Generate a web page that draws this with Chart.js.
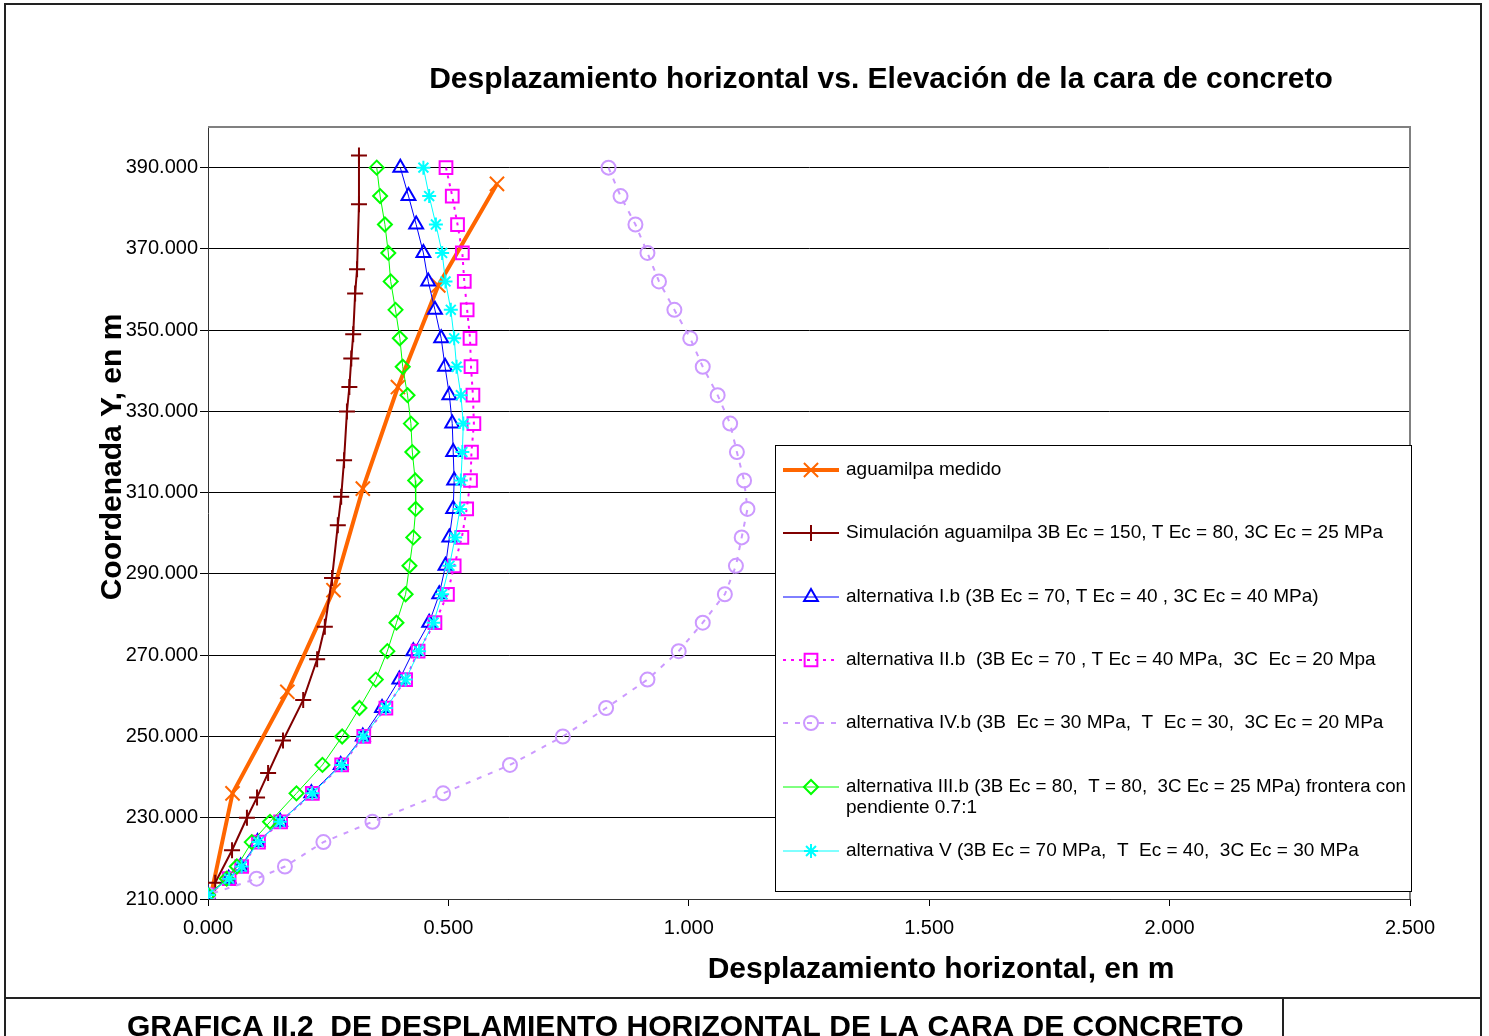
<!DOCTYPE html>
<html>
<head>
<meta charset="utf-8">
<title>Desplazamiento horizontal vs. Elevación de la cara de concreto</title>
<script src="https://cdn.jsdelivr.net/npm/chart.js@4.4.1/dist/chart.umd.min.js"></script>
<style>
  html, body { margin: 0; padding: 0; background: #fff; }
  #wrap { position: relative; width: 1489px; height: 1036px; }
</style>
</head>
<body>
<div id="wrap"><canvas id="grafica" width="1489" height="1036"></canvas></div>
<script>
// elevaciones (m)
const elevMedido = [386, 361, 336, 311, 286, 261, 236, 212];
const elevSim = [393, 381, 365, 359, 349, 343, 336, 330, 318, 309, 302, 289, 277, 269, 259, 249, 241, 235, 230, 222, 214];
const elevAlt = [390, 383, 376, 369, 362, 355, 348, 341, 334, 327, 320, 313, 306, 299, 292, 285, 278, 271, 264, 257, 250, 243, 236, 229, 224, 218, 215, 211];

// desplazamiento horizontal (m)
const despMedido = [0.601, 0.479, 0.395, 0.322, 0.261, 0.165, 0.051, 0.008];
const despSim = [0.314, 0.314, 0.310, 0.306, 0.302, 0.298, 0.294, 0.289, 0.283, 0.277, 0.270, 0.258, 0.243, 0.227, 0.198, 0.156, 0.125, 0.102, 0.081, 0.050, 0.015];
const despAltIb = [0.400, 0.417, 0.433, 0.448, 0.458, 0.472, 0.485, 0.493, 0.502, 0.508, 0.510, 0.512, 0.510, 0.502, 0.494, 0.481, 0.460, 0.427, 0.398, 0.362, 0.322, 0.276, 0.215, 0.150, 0.103, 0.068, 0.043, 0.000];
const despAltIIb = [0.495, 0.508, 0.519, 0.529, 0.533, 0.539, 0.545, 0.547, 0.551, 0.553, 0.548, 0.546, 0.538, 0.528, 0.512, 0.498, 0.472, 0.437, 0.411, 0.370, 0.324, 0.278, 0.217, 0.151, 0.105, 0.070, 0.044, 0.000];
const despAltIVb = [0.833, 0.858, 0.889, 0.914, 0.938, 0.970, 1.003, 1.029, 1.060, 1.086, 1.100, 1.115, 1.122, 1.110, 1.098, 1.075, 1.029, 0.979, 0.914, 0.828, 0.738, 0.628, 0.489, 0.342, 0.240, 0.160, 0.101, 0.000];
const despAltIIIb = [0.351, 0.358, 0.368, 0.375, 0.380, 0.390, 0.399, 0.405, 0.415, 0.422, 0.425, 0.431, 0.432, 0.427, 0.419, 0.411, 0.392, 0.373, 0.349, 0.315, 0.279, 0.238, 0.184, 0.129, 0.091, 0.060, 0.039, 0.000];
const despAltV = [0.448, 0.460, 0.474, 0.487, 0.494, 0.505, 0.512, 0.517, 0.526, 0.531, 0.529, 0.526, 0.524, 0.514, 0.502, 0.487, 0.469, 0.439, 0.411, 0.370, 0.323, 0.278, 0.217, 0.150, 0.105, 0.070, 0.044, 0.000];

const yTicks = [210, 230, 250, 270, 290, 310, 330, 350, 370, 390];

const etiquetas = [
  ["aguamilpa medido"],
  ["Simulación aguamilpa 3B Ec = 150, T Ec = 80, 3C Ec = 25 MPa"],
  ["alternativa I.b (3B Ec = 70, T Ec = 40 , 3C Ec = 40 MPa)"],
  ["alternativa II.b  (3B Ec = 70 , T Ec = 40 MPa,  3C  Ec = 20 Mpa"],
  ["alternativa IV.b (3B  Ec = 30 MPa,  T  Ec = 30,  3C Ec = 20 MPa"],
  ["alternativa III.b (3B Ec = 80,  T = 80,  3C Ec = 25 MPa) frontera con", "pendiente 0.7:1"],
  ["alternativa V (3B Ec = 70 MPa,  T  Ec = 40,  3C Ec = 30 MPa"]
];

const FUENTE = '"Liberation Sans", Arial, sans-serif';

function puntos(xs, ys) {
  return xs.map((x, i) => ({ x: x, y: ys[i] }));
}

const datasets = [
  { label: etiquetas[0].join(' '), data: puntos(despMedido, elevMedido), borderColor: '#FF6600', borderWidth: 4,
    pointStyle: 'crossRot', pointRadius: c => c.dataIndex === despMedido.length - 1 ? 0 : 10, radioLeyenda: 10,
    pointBorderWidth: 2, order: 7 },
  { label: etiquetas[1].join(' '), data: puntos(despSim, elevSim), borderColor: '#800000', borderWidth: 2,
    pointStyle: 'cross', pointRadius: 8, radioLeyenda: 8, pointBorderWidth: 2, order: 6 },
  { label: etiquetas[2].join(' '), data: puntos(despAltIb, elevAlt), borderColor: '#0000FF', borderWidth: 1,
    pointStyle: 'triangle', pointRadius: 8, radioLeyenda: 8, pointBorderWidth: 2, order: 5 },
  { label: etiquetas[3].join(' '), data: puntos(despAltIIb, elevAlt), borderColor: '#FF00FF', borderWidth: 2,
    borderDash: [3, 5], pointStyle: 'rect', pointRadius: 9, radioLeyenda: 9, pointBorderWidth: 2, order: 4 },
  { label: etiquetas[4].join(' '), data: puntos(despAltIVb, elevAlt), borderColor: '#CC99FF', borderWidth: 2,
    borderDash: [5, 7], pointStyle: 'circle', pointRadius: 7, radioLeyenda: 7, pointBorderWidth: 2, order: 3 },
  { label: etiquetas[5].join(' '), data: puntos(despAltIIIb, elevAlt), borderColor: '#00FF00', borderWidth: 1,
    pointStyle: 'rectRot', pointRadius: 7, radioLeyenda: 7, pointBorderWidth: 2, order: 2 },
  { label: etiquetas[6].join(' '), data: puntos(despAltV, elevAlt), borderColor: '#00FFFF', borderWidth: 1,
    pointStyle: 'star', pointRadius: 7, radioLeyenda: 7, pointBorderWidth: 2, order: 1 }
];
datasets.forEach(ds => {
  ds.showLine = true;
  ds.tension = 0;
  ds.pointBorderColor = ds.borderColor;
  ds.pointBackgroundColor = 'rgba(0,0,0,0)';
  ds.backgroundColor = 'rgba(0,0,0,0)';
});

// marco, titulos y leyenda
const marco = {
  id: 'marco',
  beforeDraw(chart) {
    const ctx = chart.ctx;
    ctx.save();
    ctx.fillStyle = '#fff';
    ctx.fillRect(0, 0, chart.width, chart.height);
    ctx.restore();
  },
  beforeDatasetsDraw(chart) {
    const { ctx, chartArea: a } = chart;
    ctx.save();
    ctx.strokeStyle = '#808080';
    ctx.lineWidth = 2;
    ctx.beginPath();
    ctx.moveTo(a.left, a.top);
    ctx.lineTo(a.right, a.top);
    ctx.lineTo(a.right, a.bottom);
    ctx.stroke();
    ctx.restore();
  },
  afterDraw(chart) {
    const ctx = chart.ctx;
    ctx.save();

    // recuadro exterior
    ctx.strokeStyle = '#222';
    ctx.lineWidth = 2;
    ctx.strokeRect(5, 4, 1476, 1050);
    ctx.beginPath();
    ctx.moveTo(5, 998); ctx.lineTo(1481, 998);
    ctx.moveTo(1283, 998); ctx.lineTo(1283, 1036);
    ctx.stroke();

    // textos
    ctx.fillStyle = '#000';
    ctx.font = 'bold 30px ' + FUENTE;
    ctx.textAlign = 'center';
    ctx.textBaseline = 'alphabetic';
    ctx.fillText('Desplazamiento horizontal vs. Elevación de la cara de concreto', 881, 88);
    ctx.fillText('Desplazamiento horizontal, en m', 941, 978);
    ctx.textAlign = 'left';
    ctx.fillText('GRAFICA II.2  DE DESPLAMIENTO HORIZONTAL DE LA CARA DE CONCRETO', 127, 1036);
    ctx.save();
    ctx.translate(121, 457);
    ctx.rotate(-Math.PI / 2);
    ctx.textAlign = 'center';
    ctx.fillText('Coordenada Y, en m', 0, 0);
    ctx.restore();

    // leyenda
    const filas = [470, 533, 597, 660, 723, 787, 851];
    ctx.fillStyle = '#fff';
    ctx.fillRect(775, 445, 636, 446);
    ctx.strokeStyle = '#000';
    ctx.lineWidth = 1;
    ctx.strokeRect(775.5, 445.5, 636, 446);
    chart.data.datasets.forEach((ds, i) => {
      const y = filas[i];
      ctx.strokeStyle = ds.borderColor;
      ctx.lineWidth = ds.borderWidth;
      ctx.setLineDash(ds.borderDash || []);
      ctx.beginPath();
      ctx.moveTo(783, y);
      ctx.lineTo(839, y);
      ctx.stroke();
      ctx.setLineDash([]);
      ctx.fillStyle = 'rgba(0,0,0,0)';
      ctx.lineWidth = ds.pointBorderWidth;
      Chart.helpers.drawPoint(ctx, { pointStyle: ds.pointStyle, radius: ds.radioLeyenda, borderWidth: ds.pointBorderWidth, rotation: 0 }, 811, y);
      ctx.fillStyle = '#000';
      ctx.font = '19px ' + FUENTE;
      ctx.textAlign = 'left';
      ctx.textBaseline = 'middle';
      etiquetas[i].forEach((t, k) => ctx.fillText(t, 846, y + k * 21, 560));
    });
    ctx.restore();
  }
};

new Chart(document.getElementById('grafica'), {
  type: 'scatter',
  data: { datasets: datasets },
  options: {
    responsive: false,
    animation: false,
    events: [],
    layout: { padding: { top: 127, right: 79, left: 0, bottom: 0 } },
    plugins: { legend: { display: false }, tooltip: { enabled: false } },
    scales: {
      x: {
        type: 'linear',
        min: 0,
        max: 2.5,
        afterFit: s => { s.height = 137; },
        ticks: { stepSize: 0.5, color: '#000', padding: 10, font: { family: FUENTE, size: 20 }, callback: v => v.toFixed(3) },
        grid: { drawOnChartArea: false, tickLength: 7, color: '#000' },
        border: { color: '#333', width: 1 }
      },
      y: {
        type: 'linear',
        min: 210,
        max: 400,
        afterFit: s => { s.width = 208; },
        afterBuildTicks: s => { s.ticks = yTicks.map(v => ({ value: v })); },
        ticks: { color: '#000', padding: 2, font: { family: FUENTE, size: 20 }, callback: v => v.toFixed(3) },
        grid: { color: '#000', lineWidth: 1, tickLength: 8 },
        border: { color: '#333', width: 1 }
      }
    }
  },
  plugins: [marco]
});
</script>
</body>
</html>
